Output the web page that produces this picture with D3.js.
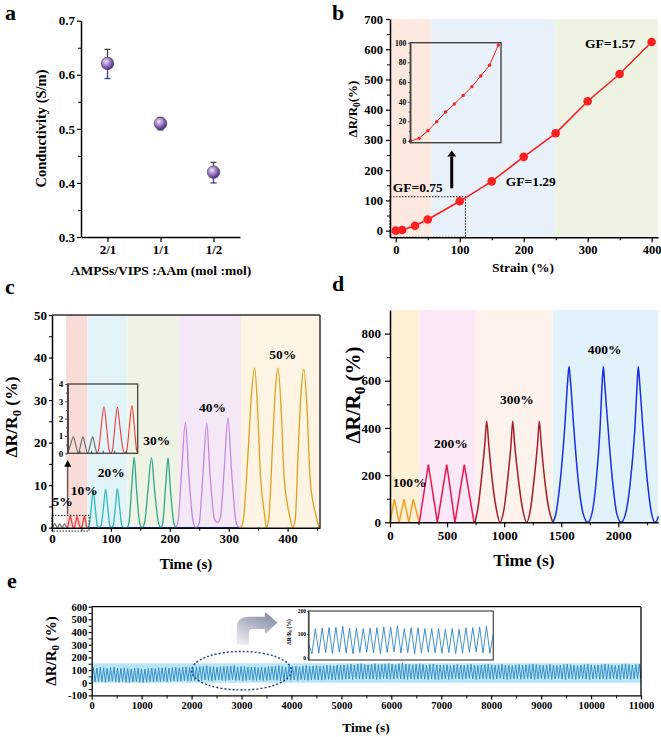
<!DOCTYPE html>
<html><head><meta charset="utf-8">
<script src="https://cdn.jsdelivr.net/npm/d3@7"></script>
<style>
body{margin:0;background:#fff}
svg{display:block;background:#fff}
</style></head><body>
<svg id="fig" width="661" height="737"></svg>
<script>
// ================= DATA =================
// Panel a
const aCats = ["2/1", "1/1", "1/2"];
const aVals = [0.621, 0.510, 0.420];
const aErrHi = [0.647, 0.521, 0.438];
const aErrLo = [0.593, 0.498, 0.400];
const aYTicks = [0.3, 0.4, 0.5, 0.6, 0.7];
const aYMinor = [0.35, 0.45, 0.55, 0.65];

// Panel b
const bStrain = [0, 10, 30, 50, 100, 150, 200, 250, 300, 350, 400];
const bResp = [0, 2, 16, 37, 97, 163, 244, 322, 428, 518, 624];
const bInsetStrain = [0, 10, 20, 30, 40, 50, 60, 70, 80, 90, 100];
const bInsetResp = [0, 2.7, 10.5, 19.7, 29.5, 37.6, 46.4, 55.3, 66.1, 77, 97.6];
const bXTicks = [0, 100, 200, 300, 400];
const bXMinor = [50, 150, 250, 350];
const bYTicks = [0, 100, 200, 300, 400, 500, 600, 700];
const bYMinor = [50, 150, 250, 350, 450, 550, 650];
const bInsetTicks = [0, 20, 40, 60, 80, 100];
const bRegions = [[-9, 55, "#fde9df"], [55, 250, "#e9f2fb"], [250, 410, "#eff3e3"]];
const bGF = [["GF=0.75", -4.7, 128], ["GF=1.29", 172, 148], ["GF=1.57", 296, 604]];

// Panel c  ([time s, ΔR/R0 %] key points)
const c5 = [[0,0],[2.2,0.45],[4.9,0.95],[7,0.45],[9.1,0],[11,0.45],[13.1,0.95],[15.1,0.45],[17.1,0],[19.2,0.45],[21.4,0.95],[23.2,0.45],[25,0]];
const c10 = [[25,0],[26.5,0.2],[28.8,1.6],[31.1,2.7],[33.5,1.4],[35.4,0.2],[36.9,0],[38.4,0.2],[40.4,1.5],[42.6,2.65],[45,1.4],[47.5,0.2],[49.1,0],[50.7,0.2],[52.8,1.5],[55.1,2.75],[57.3,1.4],[59,0.2],[60,0]];
const c20 = [[60,0],[63,0.5],[66.5,4.5],[70,8.8],[73.5,4.5],[77,0.5],[80,0],[83.5,0.5],[87.3,4.6],[91,9.0],[94.8,4.6],[98.2,0.5],[101,0],[104,0.5],[107.5,4.7],[111,9.2],[114.8,4.7],[118.5,0.5],[122,0],[128,0]];
const c30 = [[128,0],[131,1.5],[135,9],[139.5,16.5],[143.5,9],[149,1],[153,0],[157,1],[163,9],[169,16.4],[174,9],[181,1],[185,0],[188,1],[192.5,9],[197,16.4],[201,9],[207,1],[210,0]];
const c40 = [[210,0],[214,1.5],[220,13],[226.6,24.8],[232,13],[240,1.2],[245,0],[250,1.2],[256.5,13],[262.7,24.6],[268,13],[276,2],[281,1.2],[286,2.5],[292.5,14],[298.8,25.8],[305,13],[313,1],[318,0]];
const c50 = [[321,0],[325,2],[333,18],[339,32],[344,37.5],[349,28],[354,12],[358,6],[361,3],[364,0],[368,2],[374,18],[379,32],[383.6,37.5],[389,28],[394,12],[399,6],[403,3],[409,0],[413,2],[418,18],[423,32],[427.6,37.3],[433,28],[438,12],[443,6],[448,3],[453,0]];
const cBase = [[64,0],[318,0]];
const cXTicks = [0, 100, 200, 300, 400];
const cXMinor = [50, 150, 250, 350, 450];
const cYTicks = [0, 10, 20, 30, 40, 50];
const cYMinor = [5, 15, 25, 35, 45];
const cInsetTicks = [0, 1, 2, 3, 4];
const cRegions = [[24, 60, "#f9dcd7"], [60, 128, "#e3f4f8"], [128, 215, "#eef3e4"], [215, 321, "#f4e8f7"], [321, 455, "#fdf4e3"]];
const cLabels = [["5%", 1, 5.1], ["10%", 32, 7.6], ["20%", 77.5, 11.9], ["30%", 155, 19.4], ["40%", 249.6, 27.1], ["50%", 369, 39.7]];

// Panel d
const d100 = [[0,0],[38,98],[80,0],[123,98],[165,0],[204,98],[255,0]];
const d200 = [[257,0],[336,245],[415,0],[497,245],[569,0],[651,245],[736,0]];
const d300 = [[745,0],[770,60],[800,180],[830,330],[847,428],[865,330],[895,180],[930,60],[963,0],[1000,60],[1030,180],[1060,330],[1075,428],[1092,330],[1125,180],[1160,60],[1197,0],[1232,60],[1262,180],[1292,330],[1308,428],[1325,330],[1355,180],[1390,60],[1425,0]];
const d400 = [[1425,0],[1450,30],[1490,170],[1530,400],[1555,590],[1568,660],[1582,590],[1610,400],[1650,170],[1690,40],[1732,0],[1770,40],[1805,170],[1840,400],[1858,590],[1869,660],[1880,590],[1910,400],[1950,170],[1985,40],[2024,0],[2065,40],[2105,170],[2145,400],[2165,590],[2175,660],[2187,590],[2215,400],[2255,170],[2290,40],[2322,0],[2340,10],[2350,25]];
const dXTicks = [0, 500, 1000, 1500, 2000];
const dXMinor = [250, 750, 1250, 1750, 2250];
const dYTicks = [0, 200, 400, 600, 800];
const dYMinor = [100, 300, 500, 700];
const dRegions = [[0, 257, "#fcf0d5"], [257, 751, "#fde8f7"], [751, 1425, "#fdf2ec"], [1425, 2350, "#e2f2fb"]];
const dLabels = [["100%", 24, 150], ["200%", 385, 316], ["300%", 964, 500], ["400%", 1732, 712]];

// Panel e (peak / trough of every cycle)
const ePeaks = [118,116,121,117,114,119,122,116,113,118,112,109,113,115,110,108,112,116,113,118,117,121,115,119,122,118,123,125,120,
 123,126,128,130,134,126,126,124,126,128,131,131,136,124,128,128,124,124,124,121,124,121,128,128,131,135,128,124,130,
 128,131,126,132,135,130,133,136,131,134,138,135,133,137,139,
 140,143,146,141,148,150,145,142,147,151,144,146,149,152,147,143,150,155,148,145,142,146,150,144,140,143,147,141,139,
 138,142,136,140,144,139,137,141,145,140,136,139,143,147,141,138,142,146,140,137,135,139,143,138,141,145,149,143,140,137,
 141,145,139,136,140,144,148,142,138,135,139,143,146,141,137,140,144,148,143,139,136,140,145,149,144,140,143,147];
const eTroughs = [8,6,10,7,4,9,11,6,3,8,3,1,5,7,2,1,4,8,5,10,9,12,7,11,13,10,14,16,12,
 15,18,20,17,22,18,15,20,22,19,16,21,23,18,20,15,18,22,19,17,20,16,18,21,23,19,17,20,22,
 20,22,18,24,21,19,23,25,22,20,24,26,23,21,25,
 25,28,30,26,32,29,27,31,28,30,26,29,33,30,27,31,34,29,28,26,30,27,29,31,28,26,30,27,25,
 28,31,26,29,33,30,27,32,35,29,26,30,33,28,31,27,30,34,29,26,28,32,30,27,31,34,29,26,30,33,
 28,31,27,30,34,29,26,32,30,27,31,34,29,26,30,33,28,31,27,30,34,29,26,32,30,27,31,34];
const eInsetSeq = [60,15,123,18,126,20,128,17,130,22,134,18,126,15,126,20,124,22,126,19,128,16,131,21,131,23,136,18,124,20,128,15,128,18,124,22,124,19,124,17,121,20,124,16,121,18,128,21,128,23,131,19,135,17,100];
const eXTicks = [0,1000,2000,3000,4000,5000,6000,7000,8000,9000,10000,11000];
const eXMinor = [500,1500,2500,3500,4500,5500,6500,7500,8500,9500,10500];
const eYTicks = [-100, 0, 100, 200, 300, 400, 500, 600];
const eYMinor = [-50, 50, 150, 250, 350, 450, 550];
const eInsetTicks = [0, 100, 200];
const eBand = [0, 153];

// ================= DRAWING =================
const FONT = '"Liberation Serif","Times New Roman",Times,serif';
const svg = d3.select("#fig");
const defs = svg.append("defs");

function drawAxis(g, scale, orient, tx, ty, major, minor, fs, fmt, o = {}) {
  const mk = orient === "left" ? d3.axisLeft : d3.axisBottom;
  const gm = g.append("g").attr("transform", `translate(${tx},${ty})`);
  gm.call(mk(scale).tickValues(major).tickSizeInner(o.len ?? 5).tickSizeOuter(0)
    .tickPadding(o.pad ?? 3).tickFormat(fmt || (d => d)));
  gm.select(".domain").attr("stroke", o.color || "#000").attr("stroke-width", o.sw ?? 1.5);
  gm.selectAll(".tick line").attr("stroke", o.color || "#000").attr("stroke-width", o.tw ?? 1.2);
  gm.selectAll(".tick text").attr("font-size", fs).attr("font-family", FONT)
    .attr("font-weight", o.weight || "bold").attr("fill", "#000");
  if (minor && minor.length) {
    const gn = g.append("g").attr("transform", `translate(${tx},${ty})`);
    gn.call(mk(scale).tickValues(minor).tickSizeInner(o.mlen ?? 3).tickSizeOuter(0).tickFormat(""));
    gn.select(".domain").remove();
    gn.selectAll(".tick line").attr("stroke", o.color || "#000").attr("stroke-width", 1);
  }
  return gm;
}
function text(g, s, x, y, fs, anchor = "start", rot = 0) {
  return g.append("text").attr("transform", `translate(${x},${y}) rotate(${rot})`)
    .attr("font-family", FONT).attr("font-weight", "bold").attr("font-size", fs)
    .attr("text-anchor", anchor).attr("fill", "#000").text(s);
}
function subTitle(g, x, y, fs, pre, sub, post, rot = 0, weight = "bold") {
  const t = g.append("text").attr("transform", `translate(${x},${y}) rotate(${rot})`)
    .attr("font-family", FONT).attr("font-weight", weight).attr("font-size", fs)
    .attr("text-anchor", "middle").attr("fill", "#000");
  t.append("tspan").text(pre);
  t.append("tspan").attr("font-size", fs * 0.72).attr("dy", fs * 0.22).text(sub);
  t.append("tspan").attr("dy", -fs * 0.22).text(post);
  return t;
}

// ---------- Panel a ----------
{
  const g = svg.append("g");
  const x = d3.scalePoint().domain(aCats).range([81, 240]).padding(0.5);
  const y = d3.scaleLinear().domain([0.3, 0.7]).range([237, 20.7]);
  const grad = defs.append("radialGradient").attr("id", "sph").attr("cx", "38%").attr("cy", "35%").attr("r", "65%");
  grad.append("stop").attr("offset", "0%").attr("stop-color", "#f6f0ff");
  grad.append("stop").attr("offset", "35%").attr("stop-color", "#b49ad8");
  grad.append("stop").attr("offset", "100%").attr("stop-color", "#4a2c80");
  drawAxis(g, y, "left", 81, 0, aYTicks, aYMinor, 13, d3.format(".1f"), { len: 4, pad: 2 });
  drawAxis(g, x, "bottom", 0, 237, aCats, [], 13, d => d, { len: 5, pad: 3 });
  aCats.forEach((c, i) => {
    g.append("line").attr("x1", x(c)).attr("x2", x(c)).attr("y1", y(aVals[i])).attr("y2", y(aErrHi[i])).attr("stroke", "#444").attr("stroke-width", 1.3);
    g.append("line").attr("x1", x(c) - 3).attr("x2", x(c) + 3).attr("y1", y(aErrHi[i])).attr("y2", y(aErrHi[i])).attr("stroke", "#444").attr("stroke-width", 1.3);
    g.append("line").attr("x1", x(c)).attr("x2", x(c)).attr("y1", y(aVals[i])).attr("y2", y(aErrLo[i])).attr("stroke", "#3b3f8c").attr("stroke-width", 1.3);
    g.append("line").attr("x1", x(c) - 3).attr("x2", x(c) + 3).attr("y1", y(aErrLo[i])).attr("y2", y(aErrLo[i])).attr("stroke", "#3b3f8c").attr("stroke-width", 1.3);
  });
  g.selectAll("circle.m").data(aVals).join("circle").attr("cx", (d, i) => x(aCats[i])).attr("cy", d => y(d))
    .attr("r", 6.3).attr("fill", "url(#sph)").attr("stroke", "#5a2f6e").attr("stroke-width", 0.6);
  text(g, "Conductivity (S/m)", 46, 128.5, 14.5, "middle", -90);
  text(g, "AMPSs/VIPS :AAm (mol :mol)", 161, 275, 13.5, "middle");
  text(g, "a", 5, 20, 22);
}

// ---------- Panel b ----------
{
  const g = svg.append("g");
  const x = d3.scaleLinear().domain([-9, 410]).range([390, 658]);
  const y = d3.scaleLinear().domain([-22, 700]).range([237.3, 19]);
  bRegions.forEach(r => g.append("rect").attr("x", x(r[0])).attr("width", x(r[1]) - x(r[0]))
    .attr("y", y(700)).attr("height", y(-22) - y(700)).attr("fill", r[2]));
  // dotted zoom rectangle
  g.append("rect").attr("x", x(-9)).attr("y", y(112)).attr("width", x(109) - x(-9)).attr("height", y(-22) - y(112))
    .attr("fill", "none").attr("stroke", "#222").attr("stroke-width", 1.1).attr("stroke-dasharray", "1.5,1.5");
  const line = d3.line().x(d => x(d[0])).y(d => y(d[1]));
  const pts = bStrain.map((s, i) => [s, bResp[i]]);
  g.append("path").attr("d", line(pts)).attr("fill", "none").attr("stroke", "#ff1f1f").attr("stroke-width", 1.6);
  g.selectAll("circle.p").data(pts).join("circle").attr("cx", d => x(d[0])).attr("cy", d => y(d[1])).attr("r", 4.3).attr("fill", "#ff1f1f");
  drawAxis(g, y, "left", 390, 0, bYTicks, bYMinor, 12.5, d => d, { len: 4, pad: 3 });
  drawAxis(g, x, "bottom", 0, 237.3, bXTicks, bXMinor, 12.5, d => d, { len: 5, pad: 3 });
  // inset
  const ix = d3.scaleLinear().domain([0, 103]).range([410.3, 501]);
  const iy = d3.scaleLinear().domain([-1.7, 100]).range([142.7, 42.7]);
  const ipts = bInsetStrain.map((s, i) => [s, bInsetResp[i]]);
  const il = d3.line().x(d => ix(d[0])).y(d => iy(d[1]));
  g.append("path").attr("d", il(ipts)).attr("fill", "none").attr("stroke", "#ff1f1f").attr("stroke-width", 1);
  g.selectAll("circle.ip").data(ipts).join("circle").attr("cx", d => ix(d[0])).attr("cy", d => iy(d[1])).attr("r", 1.7).attr("fill", "#ff1f1f");
  drawAxis(g, iy, "left", 410.3, 0, bInsetTicks, [10, 30, 50, 70, 90], 7.5, d => d, { len: 2.5, pad: 1.5, sw: 1.3, tw: 0.8, mlen: 1.5, color: "#333" });
  g.append("rect").attr("x", 410.3).attr("y", 42.7).attr("width", 501 - 410.3).attr("height", 100)
    .attr("fill", "none").attr("stroke", "#444").attr("stroke-width", 1.4);
  // arrow
  const ax = x(87.5);
  g.append("line").attr("x1", ax).attr("x2", ax).attr("y1", y(140)).attr("y2", y(245)).attr("stroke", "#000").attr("stroke-width", 3);
  g.append("path").attr("d", `M${ax - 4.5},${y(245)} L${ax},${y(265)} L${ax + 4.5},${y(245)} Z`).attr("fill", "#000");
  bGF.forEach(t => text(g, t[0], x(t[1]), y(t[2]), 13.5));
  subTitle(g, 357, 109, 13, "ΔR/R", "0", "(%)", -90);
  text(g, "Strain (%)", 523, 272, 13.5, "middle");
  text(g, "b", 332, 20, 22);
}

// ---------- Panel c ----------
{
  const g = svg.append("g");
  const x = d3.scaleLinear().domain([0, 455]).range([52, 320]);
  const y = d3.scaleLinear().domain([0, 50]).range([527.7, 315]);
  cRegions.forEach(r => g.append("rect").attr("x", x(r[0])).attr("width", x(r[1]) - x(r[0]))
    .attr("y", y(50)).attr("height", y(0) - y(50)).attr("fill", r[2]));
  const line = d3.line().x(d => x(d[0])).y(d => y(d[1])).curve(d3.curveMonotoneX);
  const series = [[c5, "#7a7a7a"], [c10, "#f03a3a"], [c20, "#2cbcbc"], [c30, "#2ea68a"], [c40, "#c38ae0"], [c50, "#e0a21e"]];
  g.append("path").attr("d", line(cBase)).attr("fill", "none").attr("stroke", "#2038e0").attr("stroke-width", 1.5);
  series.forEach(s => g.append("path").attr("d", line(s[0])).attr("fill", "none").attr("stroke", s[1]).attr("stroke-width", 1.3));
  // dotted rectangle & arrow
  g.append("rect").attr("x", x(0)).attr("y", y(2.9)).attr("width", x(63) - x(0)).attr("height", y(-0.8) - y(2.9))
    .attr("fill", "none").attr("stroke", "#222").attr("stroke-width", 1).attr("stroke-dasharray", "1.5,1.5");
  const ax = x(26.7);
  g.append("line").attr("x1", ax).attr("x2", ax).attr("y1", y(3.2)).attr("y2", y(14.5)).attr("stroke", "#333").attr("stroke-width", 1);
  g.append("path").attr("d", `M${ax - 3.5},${y(14.3)} L${ax},${y(15.9)} L${ax + 3.5},${y(14.3)} Z`).attr("fill", "#000");
  // frame
  g.append("line").attr("x1", x(0)).attr("x2", x(455)).attr("y1", y(50)).attr("y2", y(50)).attr("stroke", "#333").attr("stroke-width", 1.5);
  g.append("line").attr("x1", x(455)).attr("x2", x(455)).attr("y1", y(50)).attr("y2", y(0)).attr("stroke", "#333").attr("stroke-width", 1.5);
  drawAxis(g, y, "left", 52, 0, cYTicks, cYMinor, 13, d => d, { len: 3, pad: 2 });
  drawAxis(g, x, "bottom", 0, 527.7, cXTicks, cXMinor, 13, d => d, { len: 4, pad: 2 });
  // inset
  const ix = d3.scaleLinear().domain([0, 60]).range([67.7, 137.7]);
  const iy = d3.scaleLinear().domain([0, 4]).range([453.3, 384]);
  const il = d3.line().x(d => ix(d[0])).y(d => iy(d[1])).curve(d3.curveMonotoneX);
  g.append("path").attr("d", il(c5)).attr("fill", "none").attr("stroke", "#6a6a6a").attr("stroke-width", 1.1);
  g.append("path").attr("d", il(c10)).attr("fill", "none").attr("stroke", "#f03a3a").attr("stroke-width", 1.1);
  drawAxis(g, iy, "left", 67.7, 0, cInsetTicks, [0.5, 1.5, 2.5, 3.5], 9, d => d, { len: 2.5, pad: 2, sw: 1.2, tw: 0.9, mlen: 1.5, color: "#333" });
  const ib = g.append("g").attr("transform", "translate(0,453.3)");
  ib.call(d3.axisBottom(ix).tickValues([10, 20, 30, 40, 50]).tickSizeInner(-2.5).tickSizeOuter(0).tickFormat(""));
  ib.select(".domain").remove();
  ib.selectAll(".tick line").attr("stroke", "#333");
  g.append("rect").attr("x", 67.7).attr("y", 384).attr("width", 70).attr("height", 453.3 - 384)
    .attr("fill", "none").attr("stroke", "#444").attr("stroke-width", 1.3);
  cLabels.forEach(t => text(g, t[0], x(t[1]), y(t[2]), 13.5));
  subTitle(g, 17, 417, 17.5, "ΔR/R", "0", " (%)", -90);
  text(g, "Time (s)", 186, 569, 15, "middle");
  text(g, "c", 5, 294, 22);
}

// ---------- Panel d ----------
{
  const g = svg.append("g");
  const x = d3.scaleLinear().domain([0, 2350]).range([390, 658.3]);
  const y = d3.scaleLinear().domain([0, 900]).range([522.3, 310]);
  dRegions.forEach(r => g.append("rect").attr("x", x(r[0])).attr("width", x(r[1]) - x(r[0]))
    .attr("y", y(900)).attr("height", y(0) - y(900)).attr("fill", r[2]));
  const lin = d3.line().x(d => x(d[0])).y(d => y(d[1]));
  const mono = d3.line().x(d => x(d[0])).y(d => y(d[1])).curve(d3.curveMonotoneX);
  g.append("path").attr("d", lin(d100)).attr("fill", "none").attr("stroke", "#f2a028").attr("stroke-width", 1.5);
  g.append("path").attr("d", lin(d200)).attr("fill", "none").attr("stroke", "#ea1650").attr("stroke-width", 1.5);
  g.append("path").attr("d", mono(d300)).attr("fill", "none").attr("stroke", "#a31d2a").attr("stroke-width", 1.5);
  g.append("path").attr("d", mono(d400)).attr("fill", "none").attr("stroke", "#1a2fe6").attr("stroke-width", 1.5);
  drawAxis(g, y, "left", 390, 0, dYTicks, dYMinor, 13, d => d, { len: 5, pad: 4 });
  drawAxis(g, x, "bottom", 0, 522.3, dXTicks, dXMinor, 13, d => d, { len: 5, pad: 3 });
  dLabels.forEach(t => text(g, t[0], x(t[1]), y(t[2]), 13.5));
  subTitle(g, 360, 395, 21, "ΔR/R", "0", " (%)", -90);
  text(g, "Time (s)", 524, 566, 17.5, "middle");
  text(g, "d", 332, 291, 22);
}

// ---------- Panel e ----------
{
  const g = svg.append("g");
  const x = d3.scaleLinear().domain([0, 11000]).range([91.7, 641]);
  const y = d3.scaleLinear().domain([-100, 600]).range([695.4, 606.7]);
  g.append("rect").attr("x", x(0)).attr("width", x(11000) - x(0)).attr("y", y(eBand[1])).attr("height", y(eBand[0]) - y(eBand[1]))
    .attr("fill", "#b9e6f6");
  const n = Math.min(ePeaks.length, eTroughs.length);
  const idx = d3.scaleLinear().domain([0, n]).range([0, 11000]);
  const pts = [];
  for (let i = 0; i < n; i++) { pts.push([idx(i), eTroughs[i]]); pts.push([idx(i + 0.5), ePeaks[i]]); }
  pts.push([idx(n), eTroughs[n - 1]]);
  const line = d3.line().x(d => x(d[0])).y(d => y(d[1]));
  g.append("path").attr("d", line(pts)).attr("fill", "none").attr("stroke", "#2a86c6").attr("stroke-width", 0.9);
  // ellipse
  g.append("ellipse").attr("cx", x(3000)).attr("cy", y(95)).attr("rx", x(4000) - x(3000)).attr("ry", y(-57) - y(95))
    .attr("fill", "none").attr("stroke", "#1e3a9c").attr("stroke-width", 1.4).attr("stroke-dasharray", "2,2");
  // curved arrow
  const gg = defs.append("linearGradient").attr("id", "garr").attr("x1", "0").attr("y1", "1").attr("x2", "0.6").attr("y2", "0");
  gg.append("stop").attr("offset", "0%").attr("stop-color", "#f2f3f7");
  gg.append("stop").attr("offset", "100%").attr("stop-color", "#8a93a8");
  const xl = x(2904), xr = x(3150), yb = y(300), yt = y(520), yi = y(425), xh = x(3470), xt = x(3720);
  g.append("path").attr("d",
    `M${xl},${yb} L${xl},${yt + 12} Q${xl},${yt} ${xl + 12},${yt} L${xh},${yt} L${xh},${yt - 5} L${xt},${(yt + yi) / 2} L${xh},${yi + 5} L${xh},${yi} L${xr + 4},${yi} Q${xr},${yi} ${xr},${yi + 4} L${xr},${yb} Z`)
    .attr("fill", "url(#garr)");
  // frame
  g.append("line").attr("x1", x(0)).attr("x2", x(11000)).attr("y1", y(600)).attr("y2", y(600)).attr("stroke", "#000").attr("stroke-width", 1.3);
  g.append("line").attr("x1", x(11000)).attr("x2", x(11000)).attr("y1", y(600)).attr("y2", y(-100)).attr("stroke", "#000").attr("stroke-width", 1.3);
  drawAxis(g, y, "left", 91.7, 0, eYTicks, eYMinor, 10.5, d => d, { len: 3, pad: 1.5, sw: 1.3 });
  drawAxis(g, x, "bottom", 0, 695.4, eXTicks, eXMinor, 10.5, d => d, { len: 4, pad: 2.5, sw: 1.3 });
  // inset
  const ix = d3.scaleLinear().domain([0, eInsetSeq.length - 1]).range([308.5, 493.3]);
  const iy = d3.scaleLinear().domain([-11.7, 200]).range([660, 611]);
  g.append("rect").attr("x", 308.5).attr("y", 611).attr("width", 493.3 - 308.5).attr("height", 49).attr("fill", "#fff");
  g.append("path").attr("d", d3.line().x((d, i) => ix(i)).y(d => iy(d))(eInsetSeq)).attr("fill", "none").attr("stroke", "#2a86c6").attr("stroke-width", 0.9);
  drawAxis(g, iy, "left", 308.5, 0, eInsetTicks, [], 5.5, d => d, { len: 1.5, pad: 1, sw: 1, tw: 0.7, color: "#333" });
  g.append("rect").attr("x", 308.5).attr("y", 611).attr("width", 493.3 - 308.5).attr("height", 49)
    .attr("fill", "none").attr("stroke", "#444").attr("stroke-width", 1.2);
  subTitle(g, 291, 632, 5.5, "ΔR/R", "0", " (%)", -90);
  subTitle(g, 56, 651, 15, "ΔR/R", "0", " (%)", -90);
  text(g, "Time (s)", 366, 732, 13.5, "middle");
  text(g, "e", 7, 588, 22);
}
</script></body></html>
